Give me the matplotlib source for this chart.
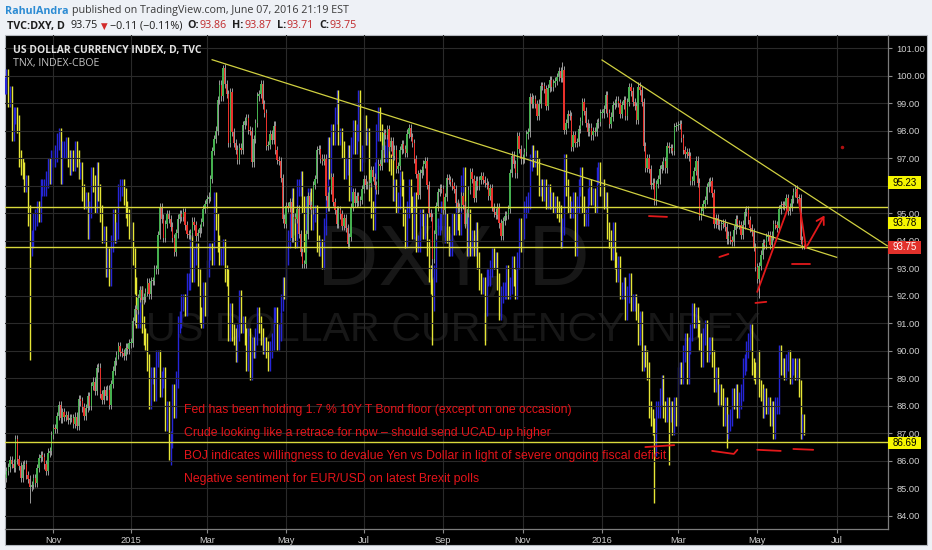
import numpy as np
import pandas as pd
import matplotlib
matplotlib.use("Agg")
import matplotlib.pyplot as plt
from matplotlib.patches import Rectangle

# ---------------- data ----------------
start_date = "2014-09-25"

dxy_close = [
    85.37, 85.63, 85.76, 86.02,
    85.90, 85.73, 86.78, 86.05, 85.82, 85.38, 85.85, 85.89, 85.49, 85.35, 85.04, 85.13,
    85.36, 85.18, 85.74, 86.09, 86.22, 86.13, 85.87, 85.62, 86.30, 86.35, 86.95,
    87.19, 87.15, 87.63, 88.04, 87.54, 87.77, 87.61, 87.65, 87.48, 87.55,
    87.55, 87.35, 87.61, 87.27, 88.25, 88.16, 87.94, 87.64, 87.91, 88.36,
    88.00, 88.72, 88.88, 88.55, 89.37, 89.39, 88.42, 88.22, 88.57, 88.36, 88.59, 88.03,
    88.79, 89.28, 89.63, 89.84, 90.17, 89.97, 89.93, 89.82, 90.12, 90.05, 90.27,
    90.30, 91.08, 91.53, 91.48, 91.92, 92.21, 91.86, 91.94, 92.13, 92.48, 92.05,
    92.53, 92.55, 92.96, 92.96, 94.20, 95.22, 94.81, 94.10, 94.61, 94.98, 94.80,
    94.52, 94.10, 93.61, 94.27, 94.81, 94.97, 94.87, 95.03, 94.56, 94.24,
    94.21, 94.29, 94.70, 94.56, 94.16, 94.28, 94.45, 94.69, 95.16, 95.34,
    95.53, 95.61, 96.26, 97.27, 97.69, 98.01, 99.12, 99.68, 99.25, 100.29, 99.70,
    99.35, 97.55, 99.40, 97.97, 97.57, 97.32, 96.95, 97.39, 97.29, 98.22, 98.36,
    98.46, 98.02, 98.00, 96.85, 97.70, 98.29, 99.25, 99.35, 99.71, 98.96, 98.65,
    97.46, 97.48, 97.87, 97.67, 98.19, 97.29, 96.95, 96.90, 96.29, 94.81, 94.60,
    95.27, 95.19, 95.41, 94.12, 94.86, 94.79, 95.15, 94.25, 93.60, 93.15, 93.15,
    94.23, 95.63, 95.31, 95.13, 96.02, 96.24, 97.29, 97.34, 96.99, 96.91,
    96.99, 95.62, 95.23, 95.85, 96.31, 95.40, 95.12, 94.60, 95.12, 94.96, 94.55,
    94.84, 94.46, 93.89, 94.15, 95.24, 95.77, 95.39, 95.62, 95.43, 95.48, 95.88,
    96.23, 96.04, 96.04, 96.09, 96.58, 96.32, 96.02, 95.84, 96.81, 96.71, 97.32, 97.93,
    97.86, 98.06, 97.42, 97.62, 97.08, 97.32, 96.61, 96.73, 97.30, 97.53, 97.34,
    97.20, 97.90, 98.10, 97.78, 97.56, 96.98, 96.42, 95.68, 96.45, 96.56, 96.79,
    96.91, 96.04, 95.02, 94.86, 93.33, 94.23, 95.25, 95.77, 95.90, 95.88,
    95.12, 95.60, 96.28, 96.22, 96.13, 95.99, 95.89, 95.38, 95.19, 95.22, 95.63,
    95.31, 94.61, 95.02, 95.84, 96.49, 96.26, 95.57, 96.19, 96.01, 96.20, 96.35,
    96.21, 96.12, 96.02, 95.64, 95.92, 95.24, 95.03, 94.93, 95.24, 94.63, 94.19,
    94.71, 94.92, 94.94, 95.15, 96.46, 97.10, 96.79, 96.45, 97.81, 97.33, 96.96,
    96.99, 97.22, 97.87, 97.94, 99.22, 98.97, 99.14, 98.97, 98.55, 98.99, 99.63,
    99.62, 99.53, 98.90, 99.55, 99.85, 99.59, 99.75, 99.82, 99.95, 100.17,
    99.92, 100.21, 98.04, 98.27, 98.62, 98.55, 97.42, 97.83, 97.57, 97.58, 98.07, 98.37,
    99.03, 98.72, 98.28, 97.95, 98.12, 97.83, 97.98, 97.97, 98.27, 98.32, 98.63,
    98.63, 98.80, 99.31, 98.66, 98.26, 98.52, 98.93, 99.00, 99.10, 99.02, 98.62,
    98.93, 99.11, 98.53, 99.05, 99.58, 99.43, 99.06, 98.89, 98.39, 99.61,
    99.47, 99.04, 97.43, 96.64, 97.00, 96.61, 96.03, 96.12, 95.45, 96.06, 96.23,
    96.62, 96.74, 96.89, 96.63, 97.46, 97.36, 97.36, 97.26, 98.13, 98.17,
    98.21, 98.24, 97.74, 97.31, 97.16, 97.23, 97.07, 96.19, 96.19, 96.53, 96.92, 96.12,
    94.92, 95.08, 95.33, 95.48, 95.94, 96.14, 96.17, 95.75, 94.61, 94.84, 94.59,
    94.56, 94.60, 94.64, 94.50, 94.05, 94.19, 94.04, 93.95, 94.41, 94.79, 94.62,
    94.57, 94.20, 94.59, 95.05, 95.13, 94.76, 94.47, 94.33, 93.78, 93.06,
    92.61, 93.08, 93.50, 93.91, 93.84, 94.14, 94.21, 93.84, 94.19, 94.62, 94.57,
    94.47, 95.14, 95.31, 95.30, 95.26, 95.57, 95.10, 95.22, 95.53, 95.76, 95.87,
    95.54, 95.57, 94.04, 93.86, 93.75,
]

tnx_close = [
    2.51, 2.53, 2.48, 2.49,
    2.40, 2.44, 2.44, 2.42, 2.34, 2.32, 2.31, 2.28, 2.28, 2.20, 2.13, 2.15,
    2.19, 2.20, 2.22, 2.21, 2.27, 2.27, 2.27, 2.29, 2.32, 2.30, 2.34,
    2.34, 2.35, 2.38, 2.39, 2.30, 2.36, 2.36, 2.37, 2.34, 2.32,
    2.34, 2.33, 2.36, 2.34, 2.31, 2.31, 2.26, 2.24, 2.24, 2.17,
    2.22, 2.30, 2.28, 2.23, 2.31, 2.26, 2.21, 2.16, 2.16, 2.08, 2.11, 2.06,
    2.14, 2.20, 2.16, 2.17, 2.26, 2.27, 2.27, 2.25, 2.22, 2.20, 2.17,
    2.17, 2.11, 2.04, 1.96, 1.96, 2.02, 1.95, 1.92, 1.91, 1.86, 1.77,
    1.83, 1.83, 1.79, 1.87, 1.87, 1.80, 1.82, 1.83, 1.72, 1.75, 1.64,
    1.68, 1.79, 1.75, 1.82, 1.95, 1.96, 2.00, 2.00, 1.99, 2.05,
    2.05, 2.14, 2.07, 2.11, 2.12, 2.06, 1.97, 1.96, 2.03, 1.99,
    2.08, 2.12, 2.12, 2.11, 2.24, 2.19, 2.14, 2.11, 2.11, 2.13, 2.07,
    2.06, 1.93, 1.98, 1.93, 1.92, 1.88, 1.93, 2.01, 1.95, 1.95, 1.92,
    1.86, 1.92, 1.84, 1.90, 1.89, 1.92, 1.97, 1.95, 1.92, 1.90, 1.90,
    1.89, 1.86, 1.89, 1.91, 1.97, 1.97, 1.91, 1.93, 2.00, 2.04, 2.03,
    2.11, 2.15, 2.19, 2.25, 2.18, 2.15, 2.27, 2.27, 2.29, 2.23, 2.14,
    2.23, 2.25, 2.25, 2.19, 2.21, 2.21, 2.14, 2.13, 2.13, 2.10,
    2.18, 2.26, 2.37, 2.31, 2.40, 2.39, 2.44, 2.48, 2.39, 2.39, 2.36,
    2.31, 2.32, 2.35, 2.26, 2.37, 2.41, 2.37, 2.40, 2.48, 2.33, 2.35,
    2.42, 2.39, 2.39, 2.26, 2.22, 2.19, 2.31, 2.40, 2.44, 2.40, 2.36, 2.35,
    2.35, 2.37, 2.33, 2.32, 2.26, 2.27, 2.23, 2.24, 2.29, 2.27, 2.20,
    2.15, 2.22, 2.27, 2.23, 2.17, 2.24, 2.14, 2.14, 2.20, 2.20, 2.17,
    2.19, 2.13, 2.07, 2.04, 2.00, 2.07, 2.18, 2.18, 2.19, 2.22,
    2.16, 2.19, 2.16, 2.13, 2.13, 2.19, 2.18, 2.22, 2.19, 2.18, 2.28,
    2.30, 2.20, 2.13, 2.20, 2.13, 2.15, 2.13, 2.17, 2.10, 2.05, 2.04,
    2.04, 1.99, 2.06, 2.06, 2.08, 2.11, 2.10, 2.10, 2.05, 1.98, 2.02,
    2.03, 2.03, 2.07, 2.03, 2.04, 2.09, 2.06, 2.03, 2.10, 2.18, 2.14,
    2.17, 2.22, 2.23, 2.24, 2.33, 2.35, 2.34, 2.34, 2.32, 2.27, 2.27,
    2.26, 2.27, 2.24, 2.26, 2.24, 2.24, 2.23, 2.23, 2.22, 2.21,
    2.15, 2.18, 2.33, 2.27, 2.23, 2.22, 2.22, 2.24, 2.13, 2.23, 2.27, 2.30,
    2.23, 2.20, 2.20, 2.25, 2.27, 2.25, 2.25, 2.23, 2.30, 2.31, 2.27,
    2.27, 2.24, 2.24, 2.17, 2.15, 2.12, 2.17, 2.10, 2.07, 2.09, 2.03,
    2.03, 2.04, 1.98, 2.02, 2.05, 2.00, 2.00, 2.00, 1.98, 1.92,
    1.96, 1.86, 1.88, 1.87, 1.84, 1.75, 1.73, 1.71, 1.66, 1.75, 1.75,
    1.78, 1.81, 1.75, 1.74, 1.76, 1.74, 1.75, 1.71, 1.76, 1.73,
    1.83, 1.84, 1.83, 1.88, 1.91, 1.83, 1.90, 1.93, 1.98, 1.96, 1.97, 1.94,
    1.91, 1.87, 1.92, 1.94, 1.88, 1.90, 1.90, 1.87, 1.81, 1.83, 1.78,
    1.79, 1.78, 1.73, 1.76, 1.70, 1.72, 1.73, 1.78, 1.77, 1.79, 1.75,
    1.77, 1.79, 1.85, 1.86, 1.89, 1.91, 1.93, 1.85, 1.84, 1.83,
    1.87, 1.80, 1.79, 1.75, 1.78, 1.76, 1.76, 1.73, 1.75, 1.70, 1.76,
    1.76, 1.88, 1.85, 1.85, 1.84, 1.86, 1.87, 1.83, 1.85, 1.85, 1.84,
    1.85, 1.80, 1.70, 1.72, 1.71,
]

dxy_low_marks = [("2014-10-15", 84.47), ("2015-08-24", 92.62),
                 ("2016-05-03", 91.92), ("2016-06-07", 93.71)]
dxy_high_marks = [("2015-03-13", 100.39), ("2015-12-02", 100.51),
                  ("2016-06-07", 93.87)]
tnx_low_marks = [("2014-10-15", 1.865), ("2015-01-30", 1.63), ("2015-08-24", 1.90),
                 ("2015-10-02", 1.90), ("2016-02-11", 1.53), ("2016-02-23", 1.62),
                 ("2016-04-07", 1.66)]
tnx_high_marks = [("2014-10-15", 2.23)]

levels = [95.23, 93.78, 86.69]
trend_lines = [
    [("2015-03-05", 100.585), ("2016-07-01", 93.40)],
    [("2016-01-01", 100.575), ("2016-08-10", 93.82)],
]
red_strokes = [
    [("2016-02-08", 94.90), ("2016-02-22", 94.87)],
    [("2016-04-01", 93.41), ("2016-04-08", 93.52)],
    [("2016-05-02", 92.14), ("2016-05-25", 95.19)],
    [("2016-05-27", 93.16), ("2016-06-10", 93.16)],
    [("2016-04-29", 91.74), ("2016-05-09", 91.78)],
    [("2016-02-04", 86.50), ("2016-02-26", 86.57)],
    [("2016-03-28", 86.36), ("2016-04-13", 86.25), ("2016-04-15", 86.40)],
    [("2016-05-02", 86.40), ("2016-05-19", 86.36)],
    [("2016-05-30", 86.43), ("2016-06-14", 86.40)],
]
red_arrow = [("2016-06-02", 95.48), ("2016-06-08", 93.74), ("2016-06-23", 95.01)]
red_dot = ("2016-07-06", 97.41)

month_ticks = ["2014-11-01", "2015-01-01", "2015-03-01", "2015-05-01", "2015-07-01",
               "2015-09-01", "2015-11-01", "2016-01-01", "2016-03-01", "2016-05-01",
               "2016-07-01"]
month_labels = ["Nov", "2015", "Mar", "May", "Jul", "Sep", "Nov", "2016", "Mar", "May", "Jul"]
price_ticks = list(range(84, 102))
hidden_price_labels = [96]   # covered by the 95.23 tag in the reference

notes = [
    "Fed has been holding 1.7 % 10Y T Bond floor (except on one occasion)",
    "Crude looking like a retrace for now \u2013 should send UCAD up higher",
    "BOJ indicates willingness to devalue Yen vs Dollar in light of severe ongoing fiscal deficit",
    "Negative sentiment for EUR/USD on latest Brexit polls",
]

# ---------------- figure ----------------
W, H = 932, 550
fig = plt.figure(figsize=(W / 100, H / 100), dpi=100, facecolor="#eef1f6")
R = fig.canvas.get_renderer()

def fx(x):
    return x / W

def fy(y):
    return 1 - y / H

fig.add_artist(Rectangle((fx(5), fy(545)), 922 / W, 510 / H, transform=fig.transFigure,
                         facecolor="black", edgecolor="#b4b8bf", lw=0.8, zorder=-2))

ext = pd.bdate_range(start_date, "2016-09-30")

def pos(d):
    return int(ext.searchsorted(pd.Timestamp(d)))

n = len(dxy_close)
xs = np.arange(n)

ax = fig.add_axes([fx(5), fy(529), 883 / W, 494 / H])
ax2 = ax.twinx()
ax.set_zorder(2)
ax2.set_zorder(1)
ax.patch.set_visible(False)
ax2.patch.set_visible(False)

x0 = 27 - (53.3 - 5) / 1.805
x1 = 27 + (888 - 53.3) / 1.805
ax.set_xlim(x0, x1)
ax.set_ylim(83.52, 101.484)
ax2.set_ylim(1.469, 2.629)
ax2.set_yticks([])
for s in ax2.spines.values():
    s.set_visible(False)

# TNX overlay bars
tc = np.array(tnx_close[:n])
to = np.r_[tc[0], tc[:-1]]
thi = np.maximum(to, tc) + 0.02
tlo = np.minimum(to, tc) - 0.02
for d, v in tnx_low_marks:
    tlo[pos(d)] = v
for d, v in tnx_high_marks:
    thi[pos(d)] = v
tcol = np.where(tc >= to, "#2626d8", "#e6e636")
ax2.vlines(np.arange(len(tc)), tlo, thi, colors=tcol, lw=1.0, zorder=2)

# DXY candles
c = np.array(dxy_close)
o = np.r_[c[0], c[:-1]]
hi = np.maximum(o, c) + 0.15
lo = np.minimum(o, c) - 0.15
for d, v in dxy_low_marks:
    lo[pos(d)] = v
for d, v in dxy_high_marks:
    hi[pos(d)] = v
up = c >= o
body = np.maximum(np.abs(c - o), 0.04)
ax.vlines(xs, lo, hi, colors="#9a9a9a", lw=0.7, zorder=3)
ax.bar(xs[up], body[up], bottom=np.minimum(o, c)[up], width=0.72, color="#45b04f", lw=0, zorder=4)
ax.bar(xs[~up], body[~up], bottom=np.minimum(o, c)[~up], width=0.72, color="#e8312b", lw=0, zorder=4)

# drawings
for lv in levels:
    ax.axhline(lv, color="#d9d93c", lw=1.0, zorder=5)
for line in trend_lines:
    ax.plot([pos(d) for d, _ in line], [p for _, p in line], color="#d0d040", lw=0.9, zorder=5)
RED = "#e3191b"
for st in red_strokes:
    ax.plot([pos(d) for d, _ in st], [p for _, p in st], color=RED, lw=1.3,
            solid_capstyle="round", zorder=6)
ax.plot([pos(d) for d, _ in red_arrow[:-1]], [p for _, p in red_arrow[:-1]], color=RED, lw=1.3, zorder=6)
ax.annotate("", xy=(pos(red_arrow[-1][0]), red_arrow[-1][1]),
            xytext=(pos(red_arrow[-2][0]), red_arrow[-2][1]),
            arrowprops=dict(arrowstyle="->,head_length=0.5,head_width=0.3", color=RED, lw=1.3), zorder=6)
ax.plot([pos(red_dot[0])], [red_dot[1]], "o", color="#b01010", ms=1.5, zorder=6)

# axes styling
tick_pos = [pos(d) for d in month_ticks]
ax.set_xticks(tick_pos)
ax.set_xticklabels(month_labels)
ax.set_yticks(price_ticks)
ax.set_yticklabels(["" if v in hidden_price_labels else f"{v:.2f}" for v in price_ticks])
ax.yaxis.tick_right()
ax.tick_params(axis="y", which="both", left=False, right=True, labelleft=False, labelright=True,
               length=3, width=0.8, color="#8a8a8a", labelcolor="#cfcfcf", labelsize=6.7, pad=3)
ax.tick_params(axis="x", length=3, width=0.8, color="#8a8a8a", labelcolor="#cfcfcf",
               labelsize=6.7, pad=2)
for lab in ax.get_xticklabels() + ax.get_yticklabels():
    lab.set_family("Liberation Sans")
ax.grid(True, color="#2a2a2a", lw=0.8)
ax.set_axisbelow(True)
for k in ("left", "top"):
    ax.spines[k].set_visible(False)
for k in ("right", "bottom"):
    ax.spines[k].set_color("#7c7c7c")
    ax.spines[k].set_linewidth(0.9)

# ---------------- texts ----------------
def text_w(s, size, **kw):
    t = fig.text(0, 0, s, fontsize=size, **kw)
    w = t.get_window_extent(renderer=R).width
    t.remove()
    return w

def fit(s, target, **kw):
    return 10.0 * target / text_w(s, 10.0, **kw)

HF = ["Open Sans", "DejaVu Sans"]

def runs(x, y, items, size):
    for s, color, weight, gap in items:
        fam = ["DejaVu Sans"] if s == "\u25bc" else HF
        sz = size * 0.8 if s == "\u25bc" else size
        t = fig.text(fx(x), fy(y), s, color=color, fontsize=sz, fontweight=weight,
                     family=fam, va="baseline", ha="left", zorder=7)
        x += t.get_window_extent(renderer=R).width + gap

pub = "published on TradingView.com, June 07, 2016 21:19 EST"
hs = fit(pub, 279, family=HF)
runs(5, 13.5, [("RahulAndra", "#2c8bd3", "bold", 3),
               (pub, "#3a3a3a", "normal", 0)], hs)
DK, RD = "#1d1d1d", "#c0282a"
runs(7, 28.5, [("TVC:DXY, D", DK, "bold", 6), ("93.75", DK, "normal", 3),
               ("\u25bc", "#d22a2a", "normal", 2), ("\u22120.11 (\u22120.11%)", DK, "normal", 5),
               ("O:", DK, "bold", 1), ("93.86", RD, "normal", 5),
               ("H:", DK, "bold", 1), ("93.87", RD, "normal", 5),
               ("L:", DK, "bold", 1), ("93.71", RD, "normal", 5),
               ("C:", DK, "bold", 1), ("93.75", RD, "normal", 0)], hs)

s1 = fit("US DOLLAR CURRENCY INDEX, D, TVC", 189, family=HF, fontweight="bold")
fig.text(fx(13), fy(53.5), "US DOLLAR CURRENCY INDEX, D, TVC", color="#e2e2e2",
         fontsize=s1, fontweight="bold", family=HF, va="baseline", zorder=7)
s2 = fit("TNX, INDEX-CBOE", 86, family=HF)
fig.text(fx(13), fy(66.5), "TNX, INDEX-CBOE", color="#c4c4c4", fontsize=s2,
         family=HF, va="baseline", zorder=7)

# watermark
WM = "#171717"
w1 = fit("DXY, D", 272, family="Liberation Sans")
fig.text(fx(453), fy(285), "DXY, D", color=WM, fontsize=w1, family="Liberation Sans",
         ha="center", va="baseline", zorder=-1)
w2 = fit("US DOLLAR CURRENCY INDEX", 615, family="Liberation Sans")
fig.text(fx(454), fy(341), "US DOLLAR CURRENCY INDEX", color=WM, fontsize=w2,
         family="Liberation Sans", ha="center", va="baseline", zorder=-1)

# red notes
ns = fit(notes[0], 389, family="Liberation Sans")
for i, s in enumerate(notes):
    fig.text(fx(184), fy(413 + 23 * i), s, color="#e4141a", fontsize=ns,
             family="Liberation Sans", va="baseline", ha="left", zorder=7)

# price tags
tags = [(levels[0], 182.5, "#f6f600", "black"), (levels[1], 222.5, "#f6f600", "black"),
        (dxy_close[-1], 247.5, "#e2312b", "white"), (levels[2], 443.0, "#f6f600", "black")]
for val, ypx, fc, tcl in tags:
    fig.add_artist(Rectangle((fx(888), fy(ypx + 6)), 33 / W, 12 / H, transform=fig.transFigure,
                             facecolor=fc, edgecolor="none", zorder=8))
    fig.text(fx(905), fy(ypx), f"{val:.2f}", color=tcl, fontsize=7.0, family="Liberation Sans",
             ha="center", va="center", zorder=9)

fig.savefig("out.png", dpi=100, facecolor=fig.get_facecolor())
